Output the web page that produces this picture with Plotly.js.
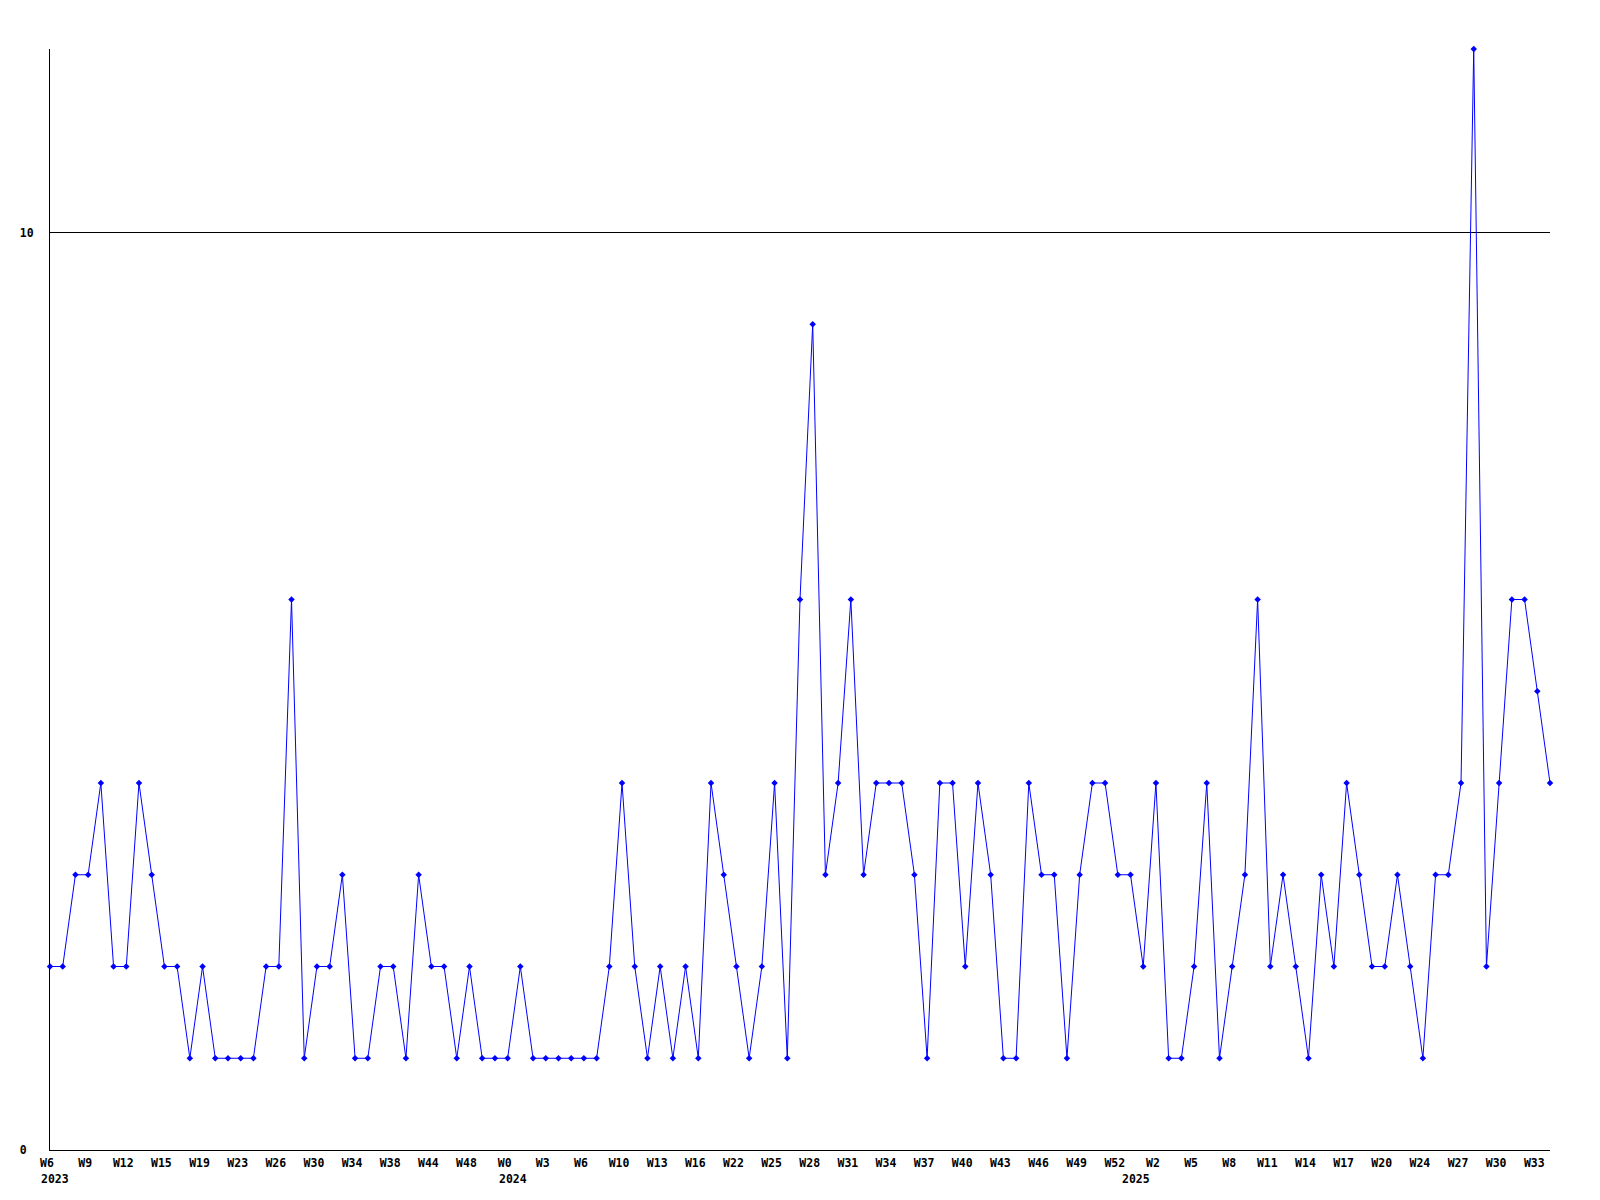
<!DOCTYPE html>
<html>
<head>
<meta charset="utf-8">
<script src="https://cdn.plot.ly/plotly-3.0.1.min.js"></script>
<style>html,body{margin:0;padding:0;background:#fff;}#chart{width:1600px;height:1200px;}</style>
</head>
<body>
<div id="chart"></div>
<script>
// Weekly values (one per observed week, in order)
const values = [
  2,2,3,3,4,2,2,4,3,2,2,1,2,1,1,1,
  1,2,2,6,1,2,2,3,1,1,2,2,1,3,2,
  2,1,2,1,1,1,2,1,1,1,1,1,1,2,
  4,2,1,2,1,2,1,4,3,2,1,2,4,1,6,
  9,3,4,6,3,4,4,4,3,1,4,4,2,4,3,
  1,1,4,3,3,1,3,4,4,3,3,2,4,1,1,
  2,4,1,2,3,6,2,3,2,1,3,2,4,3,2,2,3,2,1,3,3,4,12,2,4,6,6,5,4
];
// Week tick labels (every third observation)
const weekLabels = [
  "W6","W9","W12","W15","W19","W23","W26","W30","W34","W38","W44","W48",
  "W0","W3","W6","W10","W13","W16","W22","W25","W28","W31","W34","W37","W40","W43","W46","W49","W52",
  "W2","W5","W8","W11","W14","W17","W20","W24","W27","W30","W33"
];
const weekLabelIdx = [
  0,3,6,9,12,15,18,21,24,27,30,33,36,39,42,45,48,51,54,57,60,63,66,69,72,75,78,81,84,
  87,90,93,96,99,102,105,108,111,114,117
];
const yearLabels = ["2023","2024","2025"];
const yearLabelIdx = [0,36,85];
const yTickVals = [0,10];
const yTickText = ["0\u00a0","10"];

const idx = values.map((_, i) => i);
const FONT = {family: "DejaVu Sans Mono, monospace", size: 11.5, color: "#000", weight: "bold"};

const trace = {
  x: idx, y: values, type: "scatter", mode: "lines+markers",
  line: {color: "#0000ff", width: 1},
  marker: {color: "#0000ff", symbol: "diamond", size: 5},
  cliponaxis: false, hoverinfo: "skip"
};

const annotations = yearLabels.map((t, k) => ({
  text: t, x: yearLabelIdx[k], xref: "x", y: -0.0178, yref: "paper",
  xanchor: "left", yanchor: "top", xshift: -11, showarrow: false,
  font: FONT, align: "left"
}));

const layout = {
  width: 1600, height: 1200,
  margin: {l: 50, r: 50, t: 49, b: 50},
  paper_bgcolor: "#fff", plot_bgcolor: "#fff",
  showlegend: false,
  font: FONT,
  xaxis: {
    range: [0, values.length - 1], tickmode: "array",
    tickvals: weekLabelIdx, ticktext: weekLabels,
    showgrid: false, zeroline: false, showline: true, linecolor: "#000", linewidth: 1,
    ticks: "", tickangle: 0, tickfont: FONT, ticklabelshift: -3, ticklabelstandoff: 2
  },
  yaxis: {
    range: [0, 12], tickmode: "array", tickvals: yTickVals, ticktext: yTickText,
    showgrid: true, gridcolor: "#000", gridwidth: 1, zeroline: false,
    showline: true, linecolor: "#000", linewidth: 1, ticks: "",
    tickfont: FONT, ticklabelstandoff: 13
  },
  annotations: annotations
};

Plotly.newPlot("chart", [trace], layout, {staticPlot: true, displayModeBar: false});
</script>
</body>
</html>
